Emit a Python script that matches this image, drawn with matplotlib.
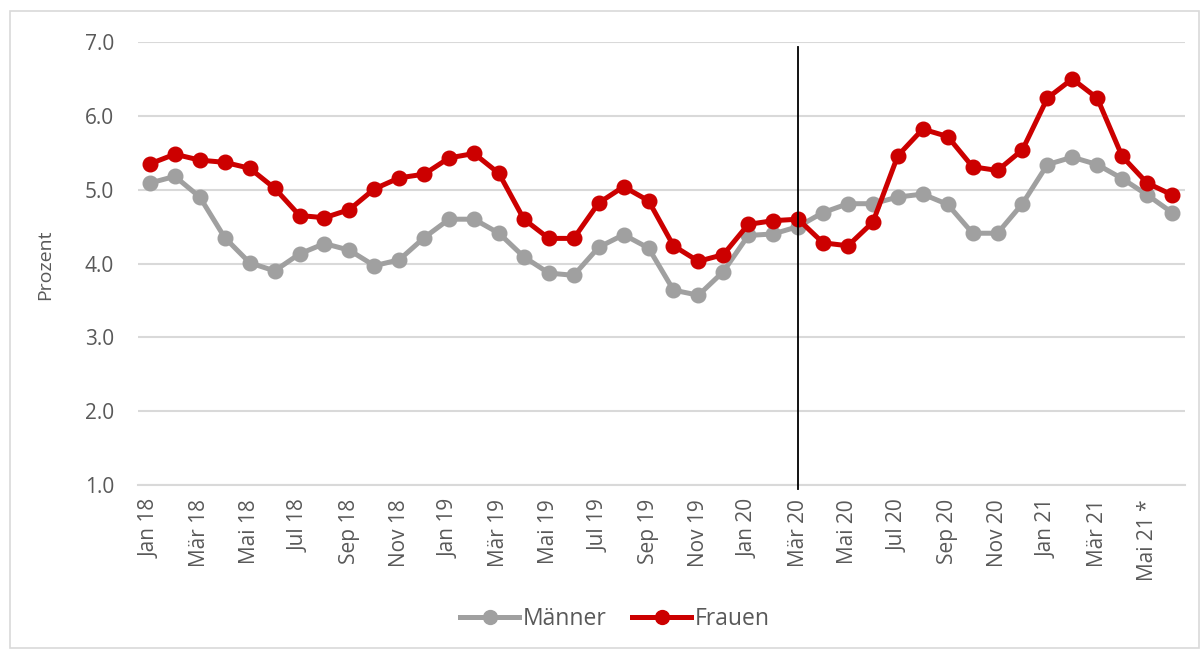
import matplotlib
matplotlib.use("Agg")
import matplotlib.pyplot as plt
from matplotlib.lines import Line2D
from matplotlib.patches import Rectangle

plt.rcParams['font.family'] = ['Open Sans', 'DejaVu Sans']

months = ["Jan", "Feb", "Mär", "Apr", "Mai", "Jun", "Jul", "Aug", "Sep", "Okt", "Nov", "Dez"]
categories = [f"{m} {y}" for y in ["18", "19", "20"] for m in months] + \
             ["Jan 21", "Feb 21", "Mär 21", "Apr 21", "Mai 21 *", "Jun 21"]

maenner = [5.09, 5.18, 4.90, 4.35, 4.01, 3.90, 4.13, 4.27, 4.18, 3.97, 4.05, 4.35,
           4.60, 4.60, 4.41, 4.09, 3.87, 3.84, 4.22, 4.39, 4.21, 3.64, 3.57, 3.89,
           4.38, 4.40, 4.50, 4.69, 4.81, 4.81, 4.90, 4.94, 4.80, 4.41, 4.41, 4.81,
           5.34, 5.44, 5.34, 5.15, 4.93, 4.69]
frauen = [5.35, 5.48, 5.40, 5.37, 5.29, 5.02, 4.65, 4.62, 4.73, 5.01, 5.16, 5.21,
          5.43, 5.49, 5.22, 4.60, 4.34, 4.34, 4.82, 5.04, 4.85, 4.24, 4.03, 4.12,
          4.53, 4.58, 4.60, 4.28, 4.24, 4.56, 5.46, 5.82, 5.72, 5.31, 5.26, 5.54,
          6.24, 6.50, 6.24, 5.45, 5.09, 4.93]
yticks = [1.0, 2.0, 3.0, 4.0, 5.0, 6.0, 7.0]
marker_category = "Mär 20"

W, H = 1202, 652
fig = plt.figure(figsize=(W / 100, H / 100), dpi=100)
ax = fig.add_axes([137.5 / W, 1 - 485 / H, (1184.5 - 137.5) / W, (485 - 42) / H])

x = list(range(len(categories)))
grey = "#A0A0A0"
red = "#CC0000"
text_col = "#595959"

ax.plot(x, maenner, color=grey, lw=3.6, marker='o', ms=10.5, zorder=3)
ax.plot(x, frauen, color=red, lw=3.6, marker='o', ms=10.5, zorder=4)

xi = categories.index(marker_category)
ax.axvline(xi, ymin=-0.008, ymax=0.988, color="black", lw=1.3, zorder=5, clip_on=False)

ax.set_xlim(-0.5, len(categories) - 0.5)
ax.set_ylim(1.0, 7.0)
ax.set_yticks(yticks)
ax.set_yticklabels([f"{v:.1f}" for v in yticks])
ax.set_xticks(x[::2])
ax.set_xticklabels(categories[::2], rotation=90, ha='center', va='top')
ax.tick_params(axis='y', length=0, pad=17, labelsize=15, labelcolor=text_col)
ax.tick_params(axis='x', length=0, pad=10, labelsize=15, labelcolor=text_col)

ax.grid(axis='y', color="#D9D9D9", lw=1.5, zorder=0)
for s in ['top', 'right', 'left']:
    ax.spines[s].set_visible(False)
ax.spines['bottom'].set_color("#D9D9D9")
ax.spines['bottom'].set_linewidth(1.5)

fig.text(45 / W, 1 - 264.5 / H, "Prozent", rotation=90, ha='center', va='center',
         fontsize=14, color=text_col)

handles = [Line2D([], [], color=grey, lw=3.6, marker='o', ms=10),
           Line2D([], [], color=red, lw=3.6, marker='o', ms=10)]
fig.legend(handles, ["Männer", "Frauen"], loc='center', bbox_to_anchor=(615 / W, 1 - 619 / H),
           ncol=2, frameon=False, fontsize=16.5, handlelength=2.58, handletextpad=0.17,
           columnspacing=1.1, labelcolor=text_col)

fig.patches.append(Rectangle((10 / W, 4 / H), (1199 - 10) / W, (641 - 4) / H,
                             transform=fig.transFigure, fill=False,
                             edgecolor="#D9D9D9", lw=1.2))

fig.savefig("out.png", dpi=100)
